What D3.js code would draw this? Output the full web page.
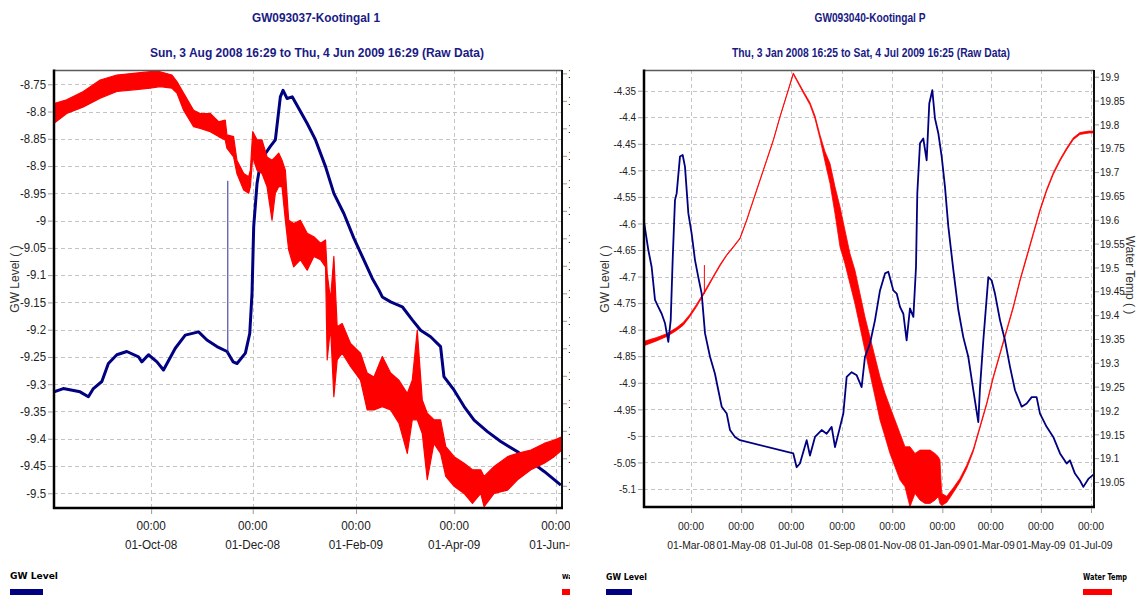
<!DOCTYPE html>
<html><head><meta charset="utf-8">
<script src="https://cdn.jsdelivr.net/npm/d3@7"></script>
<style>body{margin:0;background:#fff;} svg{display:block;}</style>
</head><body>
<svg id="chart" width="1140" height="595"></svg>
<script>
// ---------------- DATA ----------------
const leftTitle = "GW093037-Kootingal 1";
const leftSubtitle = "Sun, 3 Aug 2008 16:29 to Thu, 4 Jun 2009 16:29 (Raw Data)";
const rightTitle = "GW093040-Kootingal P";
const rightSubtitle = "Thu, 3 Jan 2008 16:25 to Sat, 4 Jul 2009 16:25 (Raw Data)";
const seriesNames = ["GW Level", "Water Temp"];
const axisTitles = ["GW Level ( )", "Water Temp ( )"];

const leftRange = ["2008-08-03 16:29", "2009-06-04 16:29"];
const rightRange = ["2008-01-03 16:25", "2009-07-04 16:25"];

const leftXTicks = ["2008-10-01", "2008-12-01", "2009-02-01", "2009-04-01", "2009-06-01"];
const rightXTicks = ["2008-03-01", "2008-05-01", "2008-07-01", "2008-09-01", "2008-11-01", "2009-01-01", "2009-03-01", "2009-05-01", "2009-07-01"];
const timeTickLabel = "00:00";

const leftGWTicks = [-8.75, -8.8, -8.85, -8.9, -8.95, -9, -9.05, -9.1, -9.15, -9.2, -9.25, -9.3, -9.35, -9.4, -9.45, -9.5];
const leftTempTicks = [19.65, 19.6, 19.55, 19.5, 19.45, 19.4, 19.35, 19.3, 19.25, 19.2, 19.15, 19.1, 19.05, 19, 18.95, 18.9];
const rightGWTicks = [-4.35, -4.4, -4.45, -4.5, -4.55, -4.6, -4.65, -4.7, -4.75, -4.8, -4.85, -4.9, -4.95, -5, -5.05, -5.1];
const rightTempTicks = [19.9, 19.85, 19.8, 19.75, 19.7, 19.65, 19.6, 19.55, 19.5, 19.45, 19.4, 19.35, 19.3, 19.25, 19.2, 19.15, 19.1, 19.05];

const leftGWDomain = [-9.527, -8.7238];
const leftTempDomain = [18.8596, 19.6561];
const rightGWDomain = [-5.1339, -4.311];
const rightTempDomain = [18.9976, 19.9141];

// GW093037 GW level [date, value]
const leftGW = [
["2008-08-03 17",-9.314],["2008-08-09 06",-9.308],["2008-08-19 08",-9.314],["2008-08-24 08",-9.323],
["2008-08-27 08",-9.308],["2008-09-01 10",-9.295],["2008-09-05 08",-9.262],["2008-09-10 10",-9.246],
["2008-09-16 10",-9.240],["2008-09-23 10",-9.250],["2008-09-25 10",-9.259],["2008-09-29 10",-9.246],
["2008-10-04 12",-9.259],["2008-10-08 10",-9.274],["2008-10-15 12",-9.234],["2008-10-21 12",-9.210],
["2008-10-29 12",-9.204],["2008-11-03 12",-9.219],["2008-11-09 12",-9.231],["2008-11-15 14",-9.240],
["2008-11-19 05",-9.259],["2008-11-21 14",-9.262],["2008-11-26 14",-9.243],["2008-11-29 05",-9.207],
["2008-11-30 14",-9.133],["2008-12-01 14",-9.011],["2008-12-03 14",-8.932],["2008-12-05 14",-8.895],
["2008-12-08 14",-8.877],["2008-12-11 14",-8.864],["2008-12-14 14",-8.852],["2008-12-17 14",-8.773],
["2008-12-19 05",-8.761],["2008-12-21 14",-8.776],["2008-12-24 17",-8.773],["2008-12-28 14",-8.794],
["2009-01-02 17",-8.822],["2009-01-07 17",-8.852],["2009-01-13 17",-8.901],["2009-01-18 17",-8.950],
["2009-01-24 17",-8.987],["2009-01-30 17",-9.032],["2009-02-05 17",-9.072],["2009-02-10 19",-9.106],
["2009-02-14 17",-9.127],["2009-02-16 19",-9.140],["2009-02-21 19",-9.149],["2009-02-28 19",-9.158],
["2009-03-06 19",-9.182],["2009-03-11 19",-9.201],["2009-03-17 19",-9.213],["2009-03-23 19",-9.231],
["2009-03-25 19",-9.286],["2009-03-31 22",-9.311],["2009-04-06 22",-9.341],["2009-04-12 22",-9.366],
["2009-04-20 22",-9.387],["2009-04-28 22",-9.405],["2009-05-09 00",-9.424],["2009-05-17 00",-9.442],
["2009-05-25 00",-9.460],["2009-06-04 00",-9.485]
];
// single-reading spikes [date, from, to]
const leftGWSpikes = [["2008-11-16 01", -9.243, -8.927]];

// GW093037 water temperature envelope [date, high, low]
const leftTemp = [
["2008-08-03 17",19.595,19.559],["2008-08-11 07",19.602,19.577],["2008-08-21 07",19.617,19.589],
["2008-08-31 10",19.638,19.605],["2008-09-10 10",19.647,19.617],["2008-09-20 10",19.650,19.620],
["2008-09-30 10",19.653,19.623],["2008-10-06 10",19.653,19.626],["2008-10-13 12",19.647,19.623],
["2008-10-16 12",19.635,19.614],["2008-10-20 12",19.614,19.583],["2008-10-26 12",19.583,19.553],
["2008-10-30 12",19.577,19.550],["2008-11-05 12",19.577,19.544],["2008-11-10 12",19.562,19.535],
["2008-11-14 12",19.565,19.529],["2008-11-15 12",19.538,19.514],["2008-11-19 12",19.535,19.498],
["2008-11-21 12",19.492,19.468],["2008-11-25 14",19.468,19.438],["2008-11-28 14",19.462,19.432],
["2008-11-29 14",19.474,19.444],["2008-12-01 00",19.544,19.498],["2008-12-03 14",19.529,19.474],
["2008-12-06 14",19.529,19.468],["2008-12-09 14",19.498,19.444],["2008-12-12 14",19.492,19.383],
["2008-12-14 14",19.498,19.432],["2008-12-16 14",19.505,19.444],["2008-12-18 14",19.492,19.444],
["2008-12-20 14",19.474,19.383],["2008-12-22 14",19.383,19.329],["2008-12-25 14",19.377,19.298],
["2008-12-29 14",19.383,19.311],["2009-01-02 17",19.359,19.292],["2009-01-06 17",19.353,19.317],
["2009-01-10 17",19.341,19.311],["2009-01-13 17",19.347,19.298],["2009-01-14 17",19.286,19.129],
["2009-01-16 17",19.238,19.189],["2009-01-18 17",19.317,19.062],["2009-01-20 17",19.189,19.129],
["2009-01-23 17",19.195,19.141],["2009-01-28 17",19.159,19.117],["2009-02-03 17",19.141,19.092],
["2009-02-07 17",19.105,19.038],["2009-02-11 19",19.098,19.038],["2009-02-16 19",19.135,19.044],
["2009-02-21 19",19.105,19.038],["2009-02-26 19",19.092,19.014],["2009-03-03 19",19.068,18.959],
["2009-03-06 19",19.092,19.020],["2009-03-09 19",19.183,19.020],["2009-03-12 19",19.056,18.995],
["2009-03-15 19",19.032,18.911],["2009-03-19 19",19.020,18.977],["2009-03-23 19",19.020,18.959],
["2009-03-26 22",18.971,18.917],["2009-03-31 22",18.953,18.899],["2009-04-06 22",18.941,18.886],
["2009-04-11 22",18.929,18.868],["2009-04-16 22",18.929,18.886],["2009-04-18 22",18.917,18.862],
["2009-04-24 22",18.935,18.886],["2009-05-03 00",18.953,18.892],["2009-05-09 00",18.959,18.911],
["2009-05-17 00",18.965,18.929],["2009-05-25 00",18.977,18.941],["2009-05-31 00",18.983,18.953],
["2009-06-04 16",18.989,18.965]
];

// GW093040 GW level [date, value]
const rightGW = [
["2008-01-03 17",-4.597],["2008-01-08 23",-4.650],["2008-01-13 00",-4.682],["2008-01-17 02",-4.744],
["2008-01-21 02",-4.757],["2008-01-25 05",-4.770],["2008-01-29 07",-4.788],["2008-02-02 07",-4.823],
["2008-02-05 05",-4.782],["2008-02-07 14",-4.669],["2008-02-10 10",-4.556],["2008-02-12 12",-4.543],
["2008-02-16 12",-4.474],["2008-02-19 19",-4.471],["2008-02-22 14",-4.493],["2008-02-26 17",-4.581],
["2008-03-01 17",-4.619],["2008-03-05 19",-4.669],["2008-03-09 19",-4.701],["2008-03-13 22",-4.732],
["2008-03-18 00",-4.807],["2008-03-24 02",-4.851],["2008-03-30 02",-4.883],["2008-04-03 05",-4.914],
["2008-04-07 07",-4.945],["2008-04-13 10",-4.958],["2008-04-17 10",-4.989],["2008-04-23 12",-5.002],
["2008-04-29 14",-5.008],["2008-07-03 12",-5.033],["2008-07-07 14",-5.059],["2008-07-11 14",-5.052],
["2008-07-19 19",-5.008],["2008-07-23 19",-5.037],["2008-07-29 22",-5.002],["2008-08-07 00",-4.989],
["2008-08-13 02",-4.996],["2008-08-19 05",-4.983],["2008-08-23 07",-5.021],["2008-08-29 10",-4.983],
["2008-09-02 10",-4.958],["2008-09-06 12",-4.889],["2008-09-12 14",-4.880],["2008-09-18 17",-4.886],
["2008-09-24 17",-4.908],["2008-09-28 19",-4.851],["2008-10-04 22",-4.826],["2008-10-11 00",-4.782],
["2008-10-17 02",-4.726],["2008-10-23 05",-4.694],["2008-10-27 05",-4.691],["2008-11-02 07",-4.726],
["2008-11-06 10",-4.732],["2008-11-10 10",-4.757],["2008-11-14 12",-4.770],["2008-11-18 12",-4.820],
["2008-11-22 14",-4.760],["2008-11-26 17",-4.776],["2008-11-29 22",-4.682],["2008-12-01 12",-4.543],
["2008-12-04 19",-4.449],["2008-12-08 19",-4.440],["2008-12-12 22",-4.481],["2008-12-16 02",-4.374],
["2008-12-19 19",-4.349],["2008-12-23 00",-4.402],["2008-12-27 02",-4.430],["2008-12-31 05",-4.474],
["2009-01-04 05",-4.531],["2009-01-08 07",-4.606],["2009-01-14 10",-4.688],["2009-01-20 12",-4.763],
["2009-01-26 12",-4.814],["2009-02-01 14",-4.851],["2009-02-07 17",-4.914],["2009-02-13 19",-4.974],
["2009-02-15 19",-4.911],["2009-02-19 22",-4.820],["2009-02-26 00",-4.701],["2009-03-02 00",-4.707],
["2009-03-06 02",-4.732],["2009-03-12 05",-4.782],["2009-03-18 07",-4.820],["2009-03-24 10",-4.870],
["2009-03-30 12",-4.914],["2009-04-07 14",-4.945],["2009-04-13 17",-4.939],["2009-04-19 19",-4.927],
["2009-04-25 19",-4.927],["2009-04-29 22",-4.958],["2009-05-08 00",-4.983],["2009-05-16 02",-5.002],
["2009-05-24 07",-5.033],["2009-06-01 10",-5.052],["2009-06-05 10",-5.046],["2009-06-11 12",-5.071],
["2009-06-17 14",-5.084],["2009-06-21 17",-5.096],["2009-06-27 19",-5.081],["2009-07-04 16",-5.072]
];

// GW093040 water temperature envelope [date, high, low]
const rightTemp = [
["2008-01-03 17",19.345,19.336],["2008-01-19 02",19.353,19.346],["2008-01-31 07",19.361,19.355],
["2008-02-12 12",19.374,19.368],["2008-02-20 14",19.385,19.379],["2008-02-28 17",19.402,19.397],
["2008-03-07 19",19.423,19.418],["2008-03-13 22",19.440,19.436],["2008-03-20 00",19.458,19.454],
["2008-03-28 02",19.482,19.479],["2008-04-05 05",19.506,19.503],["2008-04-13 10",19.527,19.525],
["2008-04-21 12",19.544,19.542],["2008-04-29 14",19.562,19.560],["2008-05-07 17",19.600,19.598],
["2008-05-15 19",19.642,19.640],["2008-05-23 22",19.684,19.682],["2008-06-01 02",19.726,19.724],
["2008-06-09 05",19.768,19.766],["2008-06-17 07",19.817,19.815],["2008-06-25 10",19.862,19.860],
["2008-07-03 12",19.908,19.905],["2008-07-07 14",19.895,19.892],["2008-07-15 17",19.870,19.866],
["2008-07-23 19",19.846,19.841],["2008-07-29 22",19.818,19.812],["2008-08-05 00",19.778,19.770],
["2008-08-11 02",19.743,19.722],["2008-08-17 05",19.718,19.676],["2008-08-23 07",19.669,19.613],
["2008-08-29 10",19.627,19.543],["2008-09-04 10",19.578,19.508],["2008-09-10 12",19.529,19.466],
["2008-09-16 14",19.494,19.424],["2008-09-22 17",19.445,19.375],["2008-09-28 19",19.396,19.326],
["2008-10-04 22",19.354,19.277],["2008-10-11 00",19.312,19.229],["2008-10-17 02",19.270,19.180],
["2008-10-23 05",19.236,19.145],["2008-10-29 05",19.208,19.110],["2008-11-04 07",19.180,19.082],
["2008-11-10 10",19.152,19.054],["2008-11-16 12",19.124,19.040],["2008-11-22 14",19.124,18.998],
["2008-11-28 17",19.110,19.026],["2008-12-04 19",19.117,19.012],["2008-12-10 22",19.117,19.005],
["2008-12-17 00",19.117,19.005],["2008-12-23 00",19.110,19.012],["2008-12-27 02",19.103,19.019],
["2008-12-29 02",19.096,19.005],["2008-12-31 05",19.026,19.001],["2009-01-06 07",19.020,19.007],
["2009-01-14 10",19.038,19.028],["2009-01-22 12",19.058,19.050],["2009-01-30 14",19.085,19.078],
["2009-02-07 17",19.119,19.114],["2009-02-15 19",19.167,19.163],["2009-02-24 00",19.216,19.212],
["2009-03-04 02",19.272,19.268],["2009-03-12 05",19.321,19.317],["2009-03-20 07",19.370,19.366],
["2009-03-28 10",19.419,19.415],["2009-04-05 14",19.475,19.471],["2009-04-13 17",19.524,19.520],
["2009-04-21 19",19.573,19.569],["2009-04-29 22",19.622,19.618],["2009-05-08 00",19.664,19.660],
["2009-05-16 02",19.699,19.695],["2009-05-24 07",19.727,19.723],["2009-06-01 10",19.751,19.747],
["2009-06-09 12",19.772,19.768],["2009-06-17 14",19.783,19.779],["2009-06-28 19",19.786,19.782],
["2009-07-04 16",19.786,19.782]
];
const rightTempSpikes = [["2008-03-17 05", 19.445, 19.505]];

// ---------------- HELPERS ----------------
const parseT = s => {
  const [d, h] = s.split(" ");
  const [Y, M, D] = d.split("-").map(Number);
  let hh = 0, mm = 0;
  if (h) { const p = h.split(":"); hh = +p[0]; mm = p[1] ? +p[1] : 0; }
  return new Date(Y, M - 1, D, hh, mm);
};
const fmtDate = d3.timeFormat("%d-%b-%y");
const FONT = "'Liberation Sans', Arial, sans-serif";
const NAVY = "#000080", RED = "#ff0000", TITLE = "#1a1a84", TXT = "#222";

function condense(sel, f) {
  sel.each(function () {
    const w = this.getComputedTextLength();
    if (w > 0) { this.setAttribute("textLength", (w * f).toFixed(1)); this.setAttribute("lengthAdjust", "spacingAndGlyphs"); }
  });
}
function fixLen(sel, len) { sel.attr("textLength", len).attr("lengthAdjust", "spacingAndGlyphs"); }

const svg = d3.select("#chart");

function drawPanel(root, o) {
  const { x0, x1, y0, y1 } = o;
  const x = d3.scaleTime().domain(o.range.map(parseT)).range([x0, x1]);
  const yL = d3.scaleLinear().domain(o.gwDomain).range([y1, y0]);
  const yR = d3.scaleLinear().domain(o.tDomain).range([y1, y0]);
  const xt = o.xTicks.map(parseT);

  // titles
  root.append("text").attr("x", o.titleX).attr("y", 22).attr("text-anchor", "middle")
    .attr("font-family", FONT).attr("font-weight", "bold").attr("font-size", 13).attr("fill", TITLE)
    .text(o.title).call(fixLen, o.titleLen);
  root.append("text").attr("x", o.titleX + 1).attr("y", 57).attr("text-anchor", "middle")
    .attr("font-family", FONT).attr("font-weight", "bold").attr("font-size", 12).attr("fill", TITLE)
    .text(o.subtitle).call(fixLen, o.subLen);

  // grid
  const grid = root.append("g").attr("stroke", "#c4c4c4").attr("stroke-width", 1).attr("stroke-dasharray", "4,3");
  grid.selectAll("line.h").data(o.gwTicks).join("line").attr("class", "h")
    .attr("x1", x0).attr("x2", x1).attr("y1", d => Math.round(yL(d)) + 0.5).attr("y2", d => Math.round(yL(d)) + 0.5);
  grid.selectAll("line.v").data(xt).join("line").attr("class", "v")
    .attr("y1", y0).attr("y2", y1).attr("x1", d => Math.round(x(d)) + 0.5).attr("x2", d => Math.round(x(d)) + 0.5);

  // clip
  const cid = "clip" + o.id;
  root.append("clipPath").attr("id", cid).append("rect")
    .attr("x", x0).attr("y", y0).attr("width", x1 - x0).attr("height", y1 - y0);
  const plot = root.append("g").attr("clip-path", `url(#${cid})`);

  const tempData = o.temp.map(r => ({ t: parseT(r[0]), hi: r[1], lo: r[2] }));
  const gwData = o.gw.map(r => ({ t: parseT(r[0]), v: r[1] }));
  const area = d3.area().x(d => x(d.t)).y0(d => yR(d.lo)).y1(d => yR(d.hi));
  const line = d3.line().x(d => x(d.t)).y(d => yL(d.v));

  const drawTemp = () => {
    plot.append("path").datum(tempData).attr("d", area)
      .attr("fill", RED).attr("stroke", RED).attr("stroke-width", o.tempStroke).attr("stroke-linejoin", "round");
    plot.selectAll("line.ts").data(o.tempSpikes).join("line").attr("class", "ts")
      .attr("x1", d => x(parseT(d[0]))).attr("x2", d => x(parseT(d[0])))
      .attr("y1", d => yR(d[1])).attr("y2", d => yR(d[2])).attr("stroke", RED).attr("stroke-width", 1);
  };
  const drawGW = () => {
    plot.append("path").datum(gwData).attr("d", line)
      .attr("fill", "none").attr("stroke", NAVY).attr("stroke-width", o.gwStroke).attr("stroke-linejoin", "round");
    plot.selectAll("line.gs").data(o.gwSpikes).join("line").attr("class", "gs")
      .attr("x1", d => x(parseT(d[0]))).attr("x2", d => x(parseT(d[0])))
      .attr("y1", d => yL(d[1])).attr("y2", d => yL(d[2])).attr("stroke", "#2a2a9a").attr("stroke-width", 1);
  };
  if (o.redOnTop) { drawGW(); drawTemp(); } else { drawTemp(); drawGW(); }

  // borders
  root.append("line").attr("x1", x0).attr("x2", x1).attr("y1", y0 + 0.5).attr("y2", y0 + 0.5).attr("stroke", "#5a5a5a").attr("stroke-width", 1.5);
  root.append("line").attr("x1", x1).attr("x2", x1).attr("y1", y0).attr("y2", y1).attr("stroke", "#111").attr("stroke-width", 2);
  root.append("line").attr("x1", x0).attr("x2", x0).attr("y1", y0 - 0.5).attr("y2", y1 + 1).attr("stroke", "#000").attr("stroke-width", 2.5);
  root.append("line").attr("x1", x0 - 1).attr("x2", x1 + 1).attr("y1", y1).attr("y2", y1).attr("stroke", "#000").attr("stroke-width", 2.5);

  const styleAxis = (g, fs) => {
    g.select(".domain").remove();
    g.selectAll(".tick line").attr("stroke", "#9a9a9a");
    g.selectAll(".tick text").attr("font-family", FONT).attr("font-size", fs).attr("fill", TXT);
  };

  // left (GW) axis
  const gL = root.append("g").attr("transform", `translate(${x0 - 1},0)`)
    .call(d3.axisLeft(yL).tickValues(o.gwTicks).tickSize(5).tickPadding(2).tickFormat(d => String(d)));
  styleAxis(gL, o.fs);
  condense(gL.selectAll(".tick text"), o.cond);

  // right (Temp) axis
  const gR = root.append("g").attr("transform", `translate(${x1 + 1},0)`)
    .call(d3.axisRight(yR).tickValues(o.tTicks).tickSize(4).tickPadding(1).tickFormat(d => String(d)));
  styleAxis(gR, o.fs);
  condense(gR.selectAll(".tick text"), o.cond);

  // bottom axis
  const gB = root.append("g").attr("transform", `translate(0,${y1 + 1})`)
    .call(d3.axisBottom(x).tickValues(xt).tickSize(5).tickFormat(""));
  styleAxis(gB, o.fs);
  const lab = root.append("g").attr("font-family", FONT).attr("font-size", o.fs).attr("fill", TXT).attr("text-anchor", "middle");
  lab.selectAll("text.t").data(xt).join("text").attr("class", "t")
    .attr("x", d => x(d)).attr("y", 530).text(timeTickLabel).call(condense, o.xcond);
  lab.selectAll("text.d").data(xt).join("text").attr("class", "d")
    .attr("x", d => x(d)).attr("y", 549).text(d => fmtDate(d)).call(condense, o.xcond);

  // axis titles
  root.append("text").attr("transform", `translate(${o.yTitleX},279) rotate(-90)`).attr("dy", "0.35em")
    .attr("text-anchor", "middle").attr("font-family", FONT).attr("font-size", 12).attr("fill", "#333")
    .text(axisTitles[0]);
  root.append("text").attr("transform", `translate(${o.y2TitleX},275) rotate(90)`).attr("dy", "0.35em")
    .attr("text-anchor", "middle").attr("font-family", FONT).attr("font-size", 12).attr("fill", "#333")
    .text(axisTitles[1]);

  // legend
  const lg = root.append("g").attr("font-family", "'DejaVu Sans', sans-serif").attr("font-weight", "bold").attr("font-size", 8.5).attr("fill", "#000");
  lg.append("text").attr("x", o.leg1X).attr("y", o.legY).text(seriesNames[0]).call(fixLen, o.leg1Len);
  lg.append("rect").attr("x", o.leg1X).attr("y", 589).attr("width", o.leg1W).attr("height", 8).attr("fill", NAVY);
  lg.append("text").attr("x", o.leg2X).attr("y", o.legY).attr("font-size", o.leg2Fs).text(seriesNames[1]).call(fixLen, o.leg2Len);
  lg.append("rect").attr("x", o.leg2X).attr("y", 589).attr("width", 29).attr("height", 8).attr("fill", RED);
}

// left panel is clipped at x = 570
const leftRoot = svg.append("svg").attr("x", 0).attr("y", 0).attr("width", 570).attr("height", 595);
drawPanel(leftRoot, {
  id: "L", x0: 54, x1: 562, y0: 70, y1: 508,
  range: leftRange, xTicks: leftXTicks, gwDomain: leftGWDomain, tDomain: leftTempDomain,
  gwTicks: leftGWTicks, tTicks: leftTempTicks, gw: leftGW, gwSpikes: leftGWSpikes,
  temp: leftTemp, tempSpikes: [], redOnTop: true, gwStroke: 3, tempStroke: 1.2,
  title: leftTitle, subtitle: leftSubtitle, titleX: 316, titleLen: 128, subLen: 334,
  fs: 12, cond: 0.95, xcond: 0.98, yTitleX: 15, y2TitleX: 640,
  leg1X: 10, leg1W: 33, leg1Len: 48, leg2X: 562, leg2Len: 40, leg2Fs: 7, legY: 579
});

const rightRoot = svg.append("g");
drawPanel(rightRoot, {
  id: "R", x0: 644, x1: 1094, y0: 70, y1: 507,
  range: rightRange, xTicks: rightXTicks, gwDomain: rightGWDomain, tDomain: rightTempDomain,
  gwTicks: rightGWTicks, tTicks: rightTempTicks, gw: rightGW, gwSpikes: [],
  temp: rightTemp, tempSpikes: rightTempSpikes, redOnTop: false, gwStroke: 1.8, tempStroke: 0.8,
  title: rightTitle, subtitle: rightSubtitle, titleX: 870, titleLen: 111, subLen: 278,
  fs: 11.5, cond: 0.86, xcond: 0.9, yTitleX: 605, y2TitleX: 1130,
  leg1X: 606, leg1W: 26, leg1Len: 41, leg2X: 1083, leg2Len: 44, leg2Fs: 8, legY: 580
});
</script>
</body></html>
